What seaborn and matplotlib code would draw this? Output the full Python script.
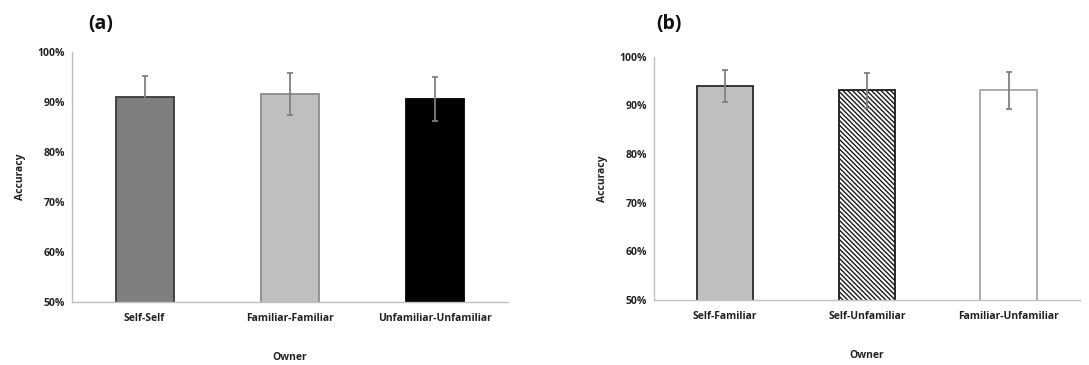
import matplotlib
matplotlib.use("Agg")
import matplotlib.pyplot as plt
import seaborn as sns
import pandas as pd
import numpy as np
from matplotlib.ticker import FuncFormatter

# Data
cats_a = ["Self-Self", "Familiar-Familiar", "Unfamiliar-Unfamiliar"]
acc_a = [90.9, 91.6, 90.5]
err_a = [4.2, 4.2, 4.4]

cats_b = ["Self-Familiar", "Self-Unfamiliar", "Familiar-Unfamiliar"]
acc_b = [93.9, 93.1, 93.1]
err_b = [3.3, 3.6, 3.85]

yticks = [50, 60, 70, 80, 90, 100]

sns.set_style("white")
plt.rcParams['font.family'] = ['Open Sans', 'DejaVu Sans']
plt.rcParams['hatch.color'] = '#303030'
plt.rcParams['hatch.linewidth'] = 1.0

fig = plt.figure(figsize=(10.89, 3.65), dpi=100)
ax_a = fig.add_axes([0.0661, 0.1726, 0.4004, 0.685])
ax_b = fig.add_axes([0.6006, 0.178, 0.391, 0.6666])

styles_a = [
    dict(face="#7f7f7f", edge="#3a3a3a", hatch=None),
    dict(face="#bfbfbf", edge="#8c8c8c", hatch=None),
    dict(face="#000000", edge="#000000", hatch=None),
]
styles_b = [
    dict(face="#bfbfbf", edge="#2a2a2a", hatch=None),
    dict(face="#ffffff", edge="#1a1a1a", hatch="\\" * 7),
    dict(face="#ffffff", edge="#a6a6a6", hatch=None),
]


def draw(ax, cats, acc, err, styles):
    df = pd.DataFrame({"Owner": cats, "Accuracy": acc})
    sns.barplot(data=df, x="Owner", y="Accuracy", ax=ax, width=0.4,
                errorbar=None, color="#808080", saturation=1)
    for patch, st in zip(ax.patches, styles):
        patch.set_facecolor(st["face"])
        patch.set_edgecolor(st["edge"])
        patch.set_linewidth(1.3)
        if st["hatch"]:
            patch.set_hatch(st["hatch"])
    ax.errorbar(np.arange(len(cats)), acc, yerr=err, fmt="none",
                ecolor="#808080", elinewidth=1.3, capsize=2.5, capthick=1.3, zorder=5)
    ax.set_ylim(50, 100)
    ax.set_xlim(-0.5, len(cats) - 0.5)
    ax.set_yticks(yticks)
    ax.yaxis.set_major_formatter(FuncFormatter(lambda v, p: f"{int(v)}%"))
    for s in ["top", "right"]:
        ax.spines[s].set_visible(False)
    for s in ["left", "bottom"]:
        ax.spines[s].set_color("#bfbfbf")
        ax.spines[s].set_linewidth(1.0)
    ax.tick_params(axis="y", which="major", direction="out", length=3, width=1,
                   color="#bfbfbf", labelsize=7.5, pad=2, labelcolor="#222222")
    ax.tick_params(axis="x", which="major", length=0, labelsize=7.5, pad=8,
                   labelcolor="#222222")
    ax.set_xticks(np.arange(len(cats)))
    ax.set_xticks(np.arange(len(cats) + 1) - 0.5, minor=True)
    ax.tick_params(axis="x", which="minor", direction="out", length=3, width=1,
                   color="#bfbfbf")
    for t in ax.get_xticklabels() + ax.get_yticklabels():
        t.set_fontweight("bold")
    ax.set_xlabel("Owner", fontsize=7.5, fontweight="bold", labelpad=20, color="#222222")
    ax.set_ylabel("Accuracy", fontsize=7.5, fontweight="bold", labelpad=8, color="#222222")


draw(ax_a, cats_a, acc_a, err_a, styles_a)
draw(ax_b, cats_b, acc_b, err_b, styles_b)

fig.text(88 / 1089, 1 - 24 / 365, "(a)", fontsize=14, fontweight="bold", va="center", ha="left", color="#111111")
fig.text(656 / 1089, 1 - 24 / 365, "(b)", fontsize=14, fontweight="bold", va="center", ha="left", color="#111111")

fig.savefig("out.png", dpi=100)
